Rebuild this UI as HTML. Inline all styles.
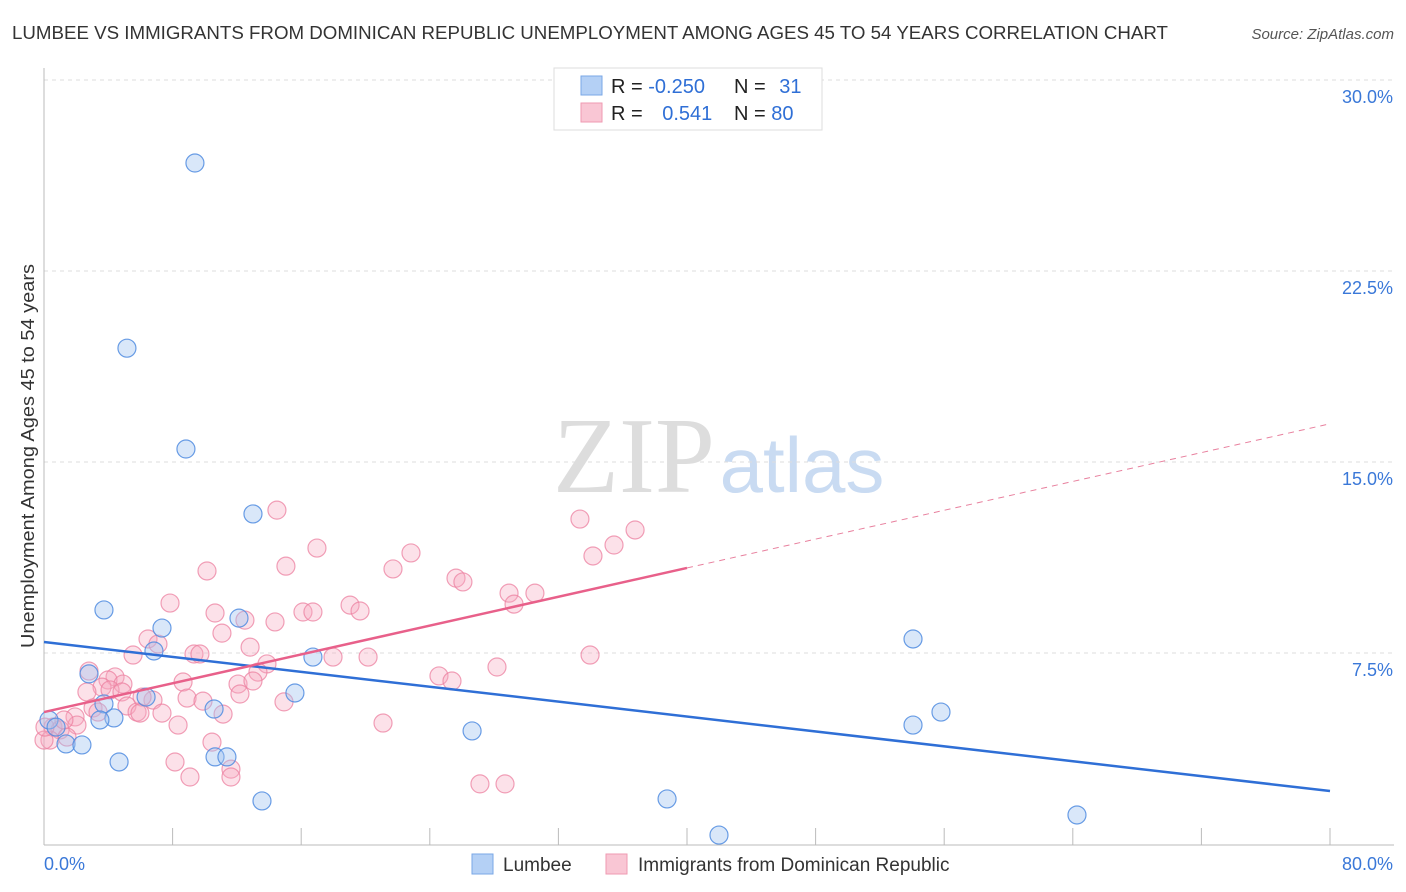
<!DOCTYPE html>
<html><head><meta charset="utf-8"><style>
body{margin:0;background:#fff;font-family:"Liberation Sans",sans-serif;}
#wrap{position:relative;width:1406px;height:892px;overflow:hidden;}
</style></head><body>
<div id="wrap">
<svg id="svg" width="1406" height="892" xmlns="http://www.w3.org/2000/svg">
<text x="12" y="39" font-size="18" fill="#333" textLength="1156" lengthAdjust="spacingAndGlyphs">LUMBEE VS IMMIGRANTS FROM DOMINICAN REPUBLIC UNEMPLOYMENT AMONG AGES 45 TO 54 YEARS CORRELATION CHART</text>
<text x="1394" y="39" font-size="15" fill="#555" font-style="italic" text-anchor="end">Source: ZipAtlas.com</text>
<text x="34" y="456" font-size="18" fill="#333" text-anchor="middle" textLength="384" lengthAdjust="spacingAndGlyphs" transform="rotate(-90 34 456)">Unemployment Among Ages 45 to 54 years</text>
<g>
<text x="634" y="492" font-size="108" font-family="Liberation Serif,serif" fill="#ddd" text-anchor="middle">ZIP</text>
<text x="802" y="492" font-size="78" fill="#c9dbf2" text-anchor="middle">atlas</text>
</g>
<g id="grid"></g><g id="axes"></g><g id="pts"></g><g id="lines"></g>
<g>
<rect x="554" y="68" width="268" height="62" fill="#fff" stroke="#ddd"/>
<rect x="581" y="76" width="21" height="19" fill="#b4d0f5" stroke="#7aa7e6"/>
<rect x="581" y="103" width="21" height="19" fill="#f9c6d4" stroke="#ef9ab2"/>
<text x="611" y="93" font-size="20" fill="#222">R = <tspan fill="#2f6fd6">-0.250</tspan></text>
<text x="734" y="93" font-size="20" fill="#222">N = <tspan fill="#2f6fd6" dx="8">31</tspan></text>
<text x="611" y="120" font-size="20" fill="#222">R = <tspan fill="#2f6fd6" dx="14">0.541</tspan></text>
<text x="734" y="120" font-size="20" fill="#222">N = <tspan fill="#2f6fd6">80</tspan></text>
</g>
<g>
<rect x="472" y="854" width="21" height="20" fill="#b4d0f5" stroke="#7aa7e6"/>
<text x="503" y="871" font-size="19" fill="#333">Lumbee</text>
<rect x="606" y="854" width="21" height="20" fill="#f9c6d4" stroke="#ef9ab2"/>
<text x="638" y="871" font-size="19" fill="#333">Immigrants from Dominican Republic</text>
</g>
</svg></div>
<script>
const xTicks=[0,8,16,24,32,40,48,56,64,72,80];
const yTicks=[7.5,15,22.5,30];
const yTickLabels=["7.5%","15.0%","22.5%","30.0%"];
const blueX=[9.39,5.16,8.83,13.0,3.73,7.34,12.13,6.84,2.80,16.73,15.61,3.73,10.58,4.35,3.48,0.31,0.75,1.37,2.36,4.67,10.64,11.38,13.56,26.63,38.76,41.99,54.06,54.06,55.80,64.26,6.35];
const blueY=[26.74,19.47,15.51,12.96,9.19,8.48,8.87,7.58,6.68,7.34,5.93,5.50,5.30,4.95,4.87,4.87,4.59,3.93,3.89,3.22,3.42,3.42,1.69,4.44,1.77,0.35,8.05,4.67,5.18,1.14,5.77];
const pinkX=[14.49,16.98,15.05,10.14,7.84,10.64,12.50,14.37,16.11,16.73,19.04,19.66,11.07,6.47,7.09,5.54,9.33,9.70,12.82,17.98,20.16,13.87,13.31,2.80,4.42,3.98,4.91,3.61,2.67,4.11,4.85,8.65,12.07,13.00,12.19,6.78,6.10,8.90,9.89,5.16,5.79,5.97,7.34,3.05,3.36,1.93,2.05,11.14,8.34,14.93,10.45,8.15,9.08,11.63,11.63,0.56,1.00,0.37,1.43,22.83,21.71,25.63,26.06,33.34,36.77,34.15,35.46,28.93,30.54,29.24,28.18,33.97,24.57,25.38,21.09,27.12,28.68,0.0,0.06,1.24];
const pinkY=[13.11,11.62,10.91,10.72,9.46,9.07,8.79,8.72,9.11,9.11,9.38,9.15,8.28,8.05,7.85,7.42,7.46,7.46,7.73,7.34,7.34,7.07,6.75,6.79,6.56,6.44,6.28,6.16,5.97,6.05,5.97,6.36,6.28,6.40,5.89,5.65,5.77,5.73,5.61,5.42,5.18,5.14,5.14,5.34,5.18,4.99,4.67,5.10,4.67,5.58,4.00,3.22,2.63,2.94,2.63,4.59,4.48,4.08,4.20,11.43,10.80,10.44,10.29,12.76,12.33,11.31,11.74,9.85,9.85,9.42,6.95,7.42,6.60,6.40,4.75,2.36,2.36,4.08,4.59,4.87];
const blueTrend=[7.93,2.08];
const pinkTrend=[5.18,10.84,16.5];
const NS="http://www.w3.org/2000/svg";
const X=v=>44+v*(1286/80), Y=v=>844-v*(764/30);
function mk(t,a,p){const e=document.createElementNS(NS,t);for(const k in a)e.setAttribute(k,a[k]);p.appendChild(e);return e;}
const grid=document.getElementById('grid'),axes=document.getElementById('axes'),pts=document.getElementById('pts'),lines=document.getElementById('lines');
yTicks.forEach((v,i)=>{
 const l=mk('line',{x1:44,x2:1394,y1:Y(v),y2:Y(v),stroke:'#ddd','stroke-dasharray':'4,4'},grid);
 
 
 const t=mk('text',{x:1393,y:Y(v)+23,'font-size':18,fill:'#3a78d8','text-anchor':'end'},axes);t.textContent=yTickLabels[i];
 
 
});
const ax=mk('line',{x1:44,x2:1394,y1:845,y2:845,stroke:'#bbb'},axes);


const ay=mk('line',{x1:44,x2:44,y1:68,y2:845,stroke:'#bbb'},axes);


xTicks.forEach(v=>{const t=mk('line',{x1:X(v),x2:X(v),y1:828,y2:845,stroke:'#bbb'},axes);
 
 });
const l0=mk('text',{x:44,y:870,'font-size':18,fill:'#3a78d8'},axes);l0.textContent='0.0%';


const l1=mk('text',{x:1393,y:870,'font-size':18,fill:'#3a78d8','text-anchor':'end'},axes);l1.textContent='80.0%';


pinkX.forEach((v,i)=>{const c=mk('circle',{cx:X(v),cy:Y(pinkY[i]),r:9,fill:'rgba(246,170,192,0.35)',stroke:'rgba(236,128,160,0.75)','stroke-width':1.2},pts);
 
 });
blueX.forEach((v,i)=>{const c=mk('circle',{cx:X(v),cy:Y(blueY[i]),r:9,fill:'rgba(160,196,240,0.4)',stroke:'rgba(80,140,225,0.85)','stroke-width':1.2},pts);
 
 });
const bl=mk('line',{x1:X(0),y1:Y(blueTrend[0]),x2:X(80),y2:Y(blueTrend[1]),stroke:'#2f6fd6','stroke-width':2.5},lines);


const pl=mk('line',{x1:X(0),y1:Y(pinkTrend[0]),x2:X(40),y2:Y(pinkTrend[1]),stroke:'#e8608a','stroke-width':2.5},lines);


const pd=mk('line',{x1:X(40),y1:Y(pinkTrend[1]),x2:X(80),y2:Y(pinkTrend[2]),stroke:'#e8809e','stroke-width':1,'stroke-dasharray':'6,5'},lines);


</script>
</body></html>
